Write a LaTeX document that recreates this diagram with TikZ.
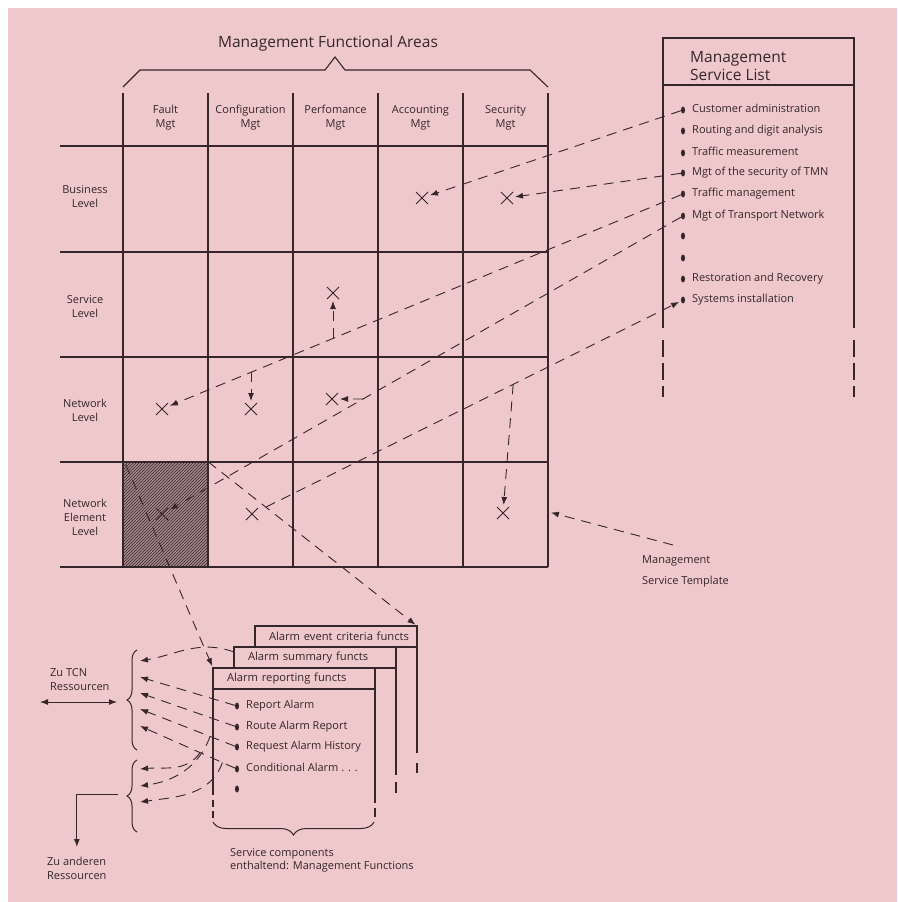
\documentclass[tikz,border=0pt]{standalone}
\usepackage{fontspec}
\setmainfont{Open Sans}
\usepackage{tikz}
\usetikzlibrary{arrows.meta, positioning, calc, shapes.misc, shapes.geometric, patterns, decorations.pathreplacing}
\definecolor{paper}{HTML}{EFC8CB}
\definecolor{ink}{HTML}{34262A}
\definecolor{shade}{HTML}{A8888C}

\begin{document}
\begin{tikzpicture}[
  x=1pt, y=1pt,
  grid/.style={draw=ink, line width=1.4pt},
  frame/.style={draw=ink, line width=1.1pt},
  lbl/.style={text=ink, font=\fontsize{11}{14}\selectfont, align=center, inner sep=0pt},
  item/.style={text=ink, font=\fontsize{11}{13}\selectfont, anchor=west, inner sep=0pt, text height=8pt, text depth=2.5pt},
  big/.style={text=ink, font=\fontsize{15.5}{18}\selectfont, inner sep=0pt},
  xmark/.style={cross out, draw=ink, line width=1pt, minimum size=11pt, inner sep=0pt},
  dot/.style={ellipse, fill=ink, minimum width=4pt, minimum height=7pt, inner sep=0pt},
  hdr/.style={frame, text=ink, font=\fontsize{11.2}{13}\selectfont, anchor=north west, minimum height=21pt, text width=162pt, inner xsep=0pt, inner ysep=0pt, outer sep=0pt, align=left, execute at begin node=\hspace*{14pt}},
  hatch/.style={preaction={fill=shade}, pattern=north east lines, pattern color=ink, minimum width=85pt, minimum height=105pt, inner sep=0pt},
  arr/.style={draw=ink, line width=0.9pt, dash pattern=on 10pt off 7pt, -{Latex[length=8pt,width=6pt]}, shorten >=2pt},
  sarr/.style={draw=ink, line width=1pt, -{Latex[length=8pt,width=6pt]}},
  brc/.style={draw=ink, line width=1pt, decorate, decoration={brace, amplitude=10pt}},
]

\useasboundingbox (0,0) rectangle (897,-902);
\fill[white] (0,0) rectangle (897,-902);
\fill[paper] (8,-8) rectangle (897,-902);

% Matrix
\node[hatch] (nefault) at (165.5,-514.5) {};
\foreach \y in {146,252,357,462,567}
  \draw[grid] (60,-\y) -- (548,-\y);
\foreach \x in {123,208,293,378,463,548}
  \draw[grid] (\x,-93) -- (\x,-567);

\draw[frame] (123,-87) -- (140,-70) -- (325,-70) -- (335,-57) -- (345,-70) -- (530,-70) -- (548,-87);
\node[big, anchor=base] (areas) at (328,-47) {Management Functional Areas};

\foreach \n/\x/\txt in {fault/165.5/Fault, config/250.5/Configuration, perf/335.5/Perfomance, acct/420.5/Accounting, secur/505.5/Security}
  \node[lbl] (\n) at (\x,-118) {\txt\\Mgt};

\node[lbl] (busl) at (85,-197) {Business\\Level};
\node[lbl] (servl) at (85,-307) {Service\\Level};
\node[lbl] (netl) at (85,-410) {Network\\Level};
\node[lbl] (nel) at (85,-517) {Network\\Element\\Level};

% Crosses
\node[xmark] (xacB) at (422,-198) {};
\node[xmark] (xseB) at (507,-198) {};
\node[xmark] (xpeS) at (333,-293) {};
\node[xmark] (xfaN) at (162,-409) {};
\node[xmark] (xcoN) at (251,-409) {};
\node[xmark] (xpeN) at (332,-399) {};
\node[xmark] (xfaE) at (162,-514) {};
\node[xmark] (xcoE) at (252,-514) {};
\node[xmark] (xseE) at (503,-513) {};

% Service list
\node[frame, anchor=north west, minimum width=191pt, minimum height=47pt, inner sep=0pt, outer sep=0pt] (mslhead) at (663,-38) {};
\node[big, anchor=north west, align=left] (mslname) at (690,-51) {Management\\Service List};
\draw[frame] (mslhead.south west) -- ++(0,-243);
\draw[frame] (mslhead.south east) -- ++(0,-243);
\draw[frame, dash pattern=on 17pt off 6pt] ($(mslhead.south west)+(0,-255)$) -- ++(0,-57);
\draw[frame, dash pattern=on 17pt off 6pt] ($(mslhead.south east)+(0,-255)$) -- ++(0,-57);

\foreach \n/\y in {1/110, 2/131, 3/153, 4/173, 5/194, 6/216, 7/236, 8/258, 9/279, 10/300}
  \node[dot] (b\n) at (683,-\y) {};
\foreach \n/\y/\txt in {1/110/Customer administration, 2/131/Routing and digit analysis, 3/153/Traffic measurement, 4/173/Mgt of the security of TMN, 5/194/Traffic management, 6/216/Mgt of Transport Network, 9/279/Restoration and Recovery, 10/300/Systems installation}
  \node[item] (t\n) at (692,-\y) {\txt};

\draw[arr] (b1) -- (xacB);
\draw[arr] (b4) -- (xseB);
\draw[arr] (b5) -- (xfaN);
\draw[arr] (b6) -- (xfaE);
\draw[arr, shorten <=9pt] (xcoE) -- (b10);

\coordinate (j1) at ($(b5)!0.672!(xfaN)$);
\coordinate (j2) at ($(b5)!0.827!(xfaN)$);
\coordinate (j3) at ($(b6)!0.614!(xfaE)$);
\coordinate (j4) at ($(xcoE)!0.606!(b10)$);
\draw[arr] (xpeS |- j1) -- (xpeS);
\draw[arr] (xcoN |- j2) -- (xcoN);
\draw[arr] (j3) -- (xpeN);
\draw[arr] (j4) -- (xseE);

% Template
\node[lbl, align=left, anchor=north west, font=\fontsize{11}{21}\selectfont] (tmpl) at (642,-555) {Management\\Service Template};
\coordinate (tmplS) at (673,-545);
\coordinate (gridR) at (549,-512);
\draw[arr] (tmplS) -- (gridR);

% Service components
\node[hdr] (evt) at (255,-626) {Alarm event criteria functs};
\node[hdr] (summ) at (234,-647) {Alarm summary functs};
\node[hdr] (rep) at (213,-668) {Alarm reporting functs};

\draw[frame] (evt.south east) -- ++(0,-106);
\draw[frame] ($(evt.south east)+(0,-116)$) -- ++(0,-10);
\draw[frame] (summ.south east) -- ++(0,-107);
\draw[frame] ($(summ.south east)+(0,-114)$) -- ++(0,-11);
\draw[frame] (rep.south east) -- ++(0,-114);
\draw[frame] ($(rep.south east)+(0,-119)$) -- ++(0,-9);
\draw[frame] (rep.south west) -- ++(0,-106);
\draw[frame, dash pattern=on 7pt off 4pt] ($(rep.south west)+(0,-111)$) -- ++(0,-18);

\foreach \n/\y in {1/706, 2/727, 3/747, 4/769, 5/789}
  \node[dot] (rb\n) at (237,-\y) {};
\foreach \n/\y/\txt in {1/706/Report Alarm, 2/727/Route Alarm Report, 3/747/Request Alarm History, 4/769/{Conditional Alarm . . .}}
  \node[item] (rt\n) at (246,-\y) {\txt};

\draw[brc, decoration={brace, amplitude=13pt}] (374,-822) -- (213,-822);
\node[lbl, align=left, anchor=north west, font=\fontsize{11}{13}\selectfont] (svc) at (230,-848) {Service components\\enthaltend: Management Functions};

\draw[arr] ([shift={(3,-3)}]nefault.north west) -- (rep.north west);
\draw[arr] (nefault.north east) -- (evt.north east);

% Resources
\draw[brc] (137,-750) -- (137,-650);
\draw[brc] (137,-832) -- (137,-760);
\foreach \n/\y in {1/661, 2/677, 3/693, 4/709, 5/726, 6/769, 7/786, 8/802}
  \coordinate (u\n) at (140,-\y);

\draw[arr, shorten >=0pt] ([yshift=-5pt]summ.north west) to[out=160, in=10] (u1);
\draw[arr, shorten >=0pt] (rb1) -- (u2);
\draw[arr, shorten >=0pt] (rb2) -- (u3);
\draw[arr, shorten >=0pt] (rb3) -- (u4);
\draw[arr, shorten >=0pt] (rb4) -- (u5);
\coordinate (k1) at ($(rb4)!0.381!(u5)$);
\coordinate (k2) at ($(rb3)!0.278!(u4)$);
\coordinate (k3) at ($(rb4)!0.15!(u5)$);
\draw[arr, shorten >=0pt] (k1) to[out=235, in=5] (u6);
\draw[arr, shorten >=0pt] (k2) to[out=250, in=8] (u7);
\draw[arr, shorten >=0pt] (k3) to[out=250, in=8] (u8);

\node[lbl, align=left, anchor=north west] (zutcn) at (50,-668) {Zu TCN\\Ressourcen};
\coordinate (tcnL) at (40,-702);
\coordinate (tcnR) at (117,-702);
\draw[sarr, {Latex[length=8pt,width=6pt]}-{Latex[length=8pt,width=6pt]}] (tcnL) -- (tcnR);

\node[lbl, align=left, anchor=north west] (zuand) at (47,-857) {Zu anderen\\Ressourcen};
\coordinate (lbm) at (118,-794);
\draw[sarr] (lbm) -| ([yshift=10pt]zuand.north);

\end{tikzpicture}
\end{document}
